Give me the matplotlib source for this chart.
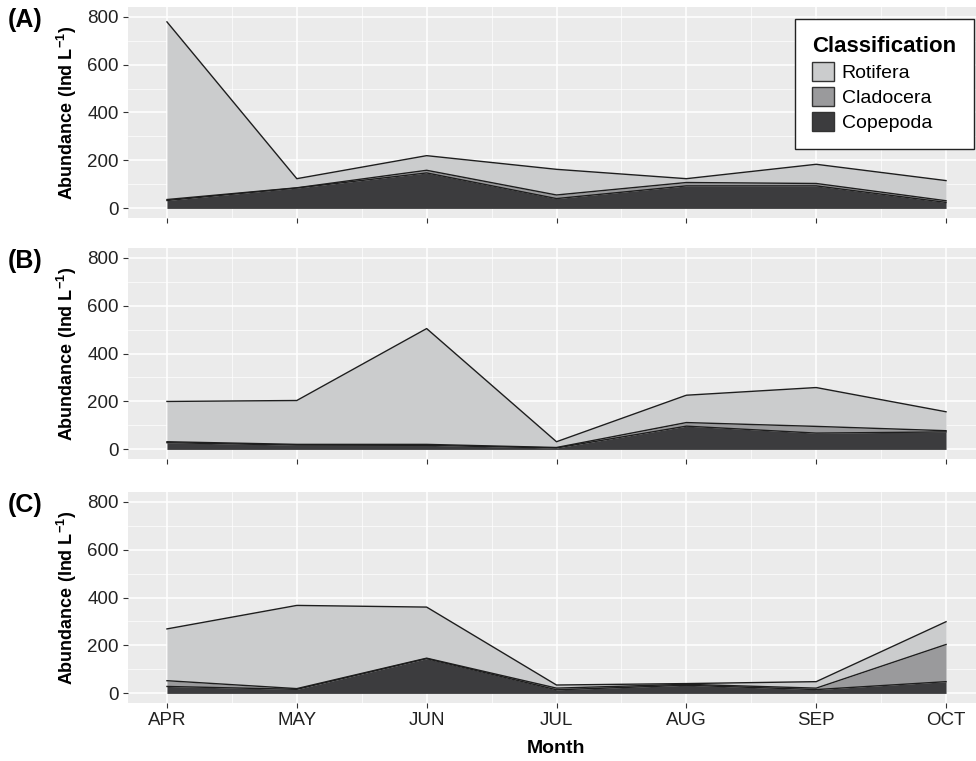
import numpy as np
import matplotlib
matplotlib.use("Agg")
import matplotlib.pyplot as plt
from matplotlib.patches import Patch

plt.rcParams['font.family'] = ['Liberation Sans', 'DejaVu Sans']
plt.rcParams['mathtext.fontset'] = 'custom'
plt.rcParams['mathtext.rm'] = 'Liberation Sans'
plt.rcParams['mathtext.bf'] = 'Liberation Sans:bold'

# ---- data (Ind L-1) ----
months = ["APR", "MAY", "JUN", "JUL", "AUG", "SEP", "OCT"]
taxa = ["Rotifera", "Cladocera", "Copepoda"]
panel_labels = ["(A)", "(B)", "(C)"]

copepoda_a = [33, 85, 148, 41, 94, 94, 25]
cladocera_a = [4, 1, 11, 15, 14, 10, 7]
rotifera_a = [741, 38, 61, 107, 16, 80, 84]

copepoda_b = [28, 18, 17, 6, 97, 68, 73]
cladocera_b = [4, 3, 4, 2, 15, 28, 5]
rotifera_b = [168, 183, 483, 24, 114, 162, 79]

copepoda_c = [29, 17, 145, 15, 34, 16, 49]
cladocera_c = [24, 3, 2, 7, 4, 6, 155]
rotifera_c = [216, 347, 213, 13, 3, 27, 95]

y_ticks = [0, 200, 400, 600, 800]

colors = {"Rotifera": "#cbcccd", "Cladocera": "#9a9a9c", "Copepoda": "#3c3c3e"}
line_col = "#1e1e1e"

panels = [
    (copepoda_a, cladocera_a, rotifera_a),
    (copepoda_b, cladocera_b, rotifera_b),
    (copepoda_c, cladocera_c, rotifera_c),
]

W, H = 976, 761
fig = plt.figure(figsize=(W / 100, H / 100), dpi=100)

# panel boxes in pixels: (top, bottom)
boxes = [(7, 218), (248, 459), (492, 703)]
left_px, right_px = 128, 985

x = np.arange(len(months))
for i, (cope, clad, roti) in enumerate(panels):
    top, bot = boxes[i]
    ax = fig.add_axes([left_px / W, (H - bot) / H, (right_px - left_px) / W, (bot - top) / H])
    ax.set_facecolor("#ebebeb")
    for s in ax.spines.values():
        s.set_visible(False)

    # grid: major + minor (ggplot style)
    ax.set_xticks(x)
    ax.set_xticks(x[:-1] + 0.5, minor=True)
    ax.set_yticks(y_ticks)
    ax.set_yticks([100, 300, 500, 700], minor=True)
    ax.grid(which="major", color="white", lw=1.1)
    ax.grid(which="minor", color="white", lw=0.5)
    ax.set_axisbelow(True)

    # stacked areas: Copepoda at bottom, Rotifera on top
    c1 = np.array(cope)
    c2 = c1 + np.array(clad)
    c3 = c2 + np.array(roti)
    ax.fill_between(x, 0, c1, color=colors["Copepoda"], lw=0, zorder=2)
    ax.fill_between(x, c1, c2, color=colors["Cladocera"], lw=0, zorder=2)
    ax.fill_between(x, c2, c3, color=colors["Rotifera"], lw=0, zorder=2)
    for c in (c1, c2, c3):
        ax.plot(x, c, color=line_col, lw=1.0, zorder=3)

    ax.set_xlim(-0.3, 6.3)
    ax.set_ylim(-40, 840)
    ax.tick_params(which="minor", length=0)
    ax.tick_params(which="major", length=3.5, color="#333333", labelsize=13.5,
                   labelcolor="#222222", pad=3)
    if i < 2:
        ax.set_xticklabels([])
    else:
        ax.set_xticklabels(months)
        ax.set_xlabel("Month", fontsize=14, fontweight="bold", labelpad=8)
    ax.set_ylabel(r"Abundance (Ind L$^{\mathbf{-1}}$)", fontsize=13,
                  fontweight="bold", labelpad=6)
    fig.text(8 / W, 1 - (top + 13) / H, panel_labels[i], fontsize=18,
             fontweight="bold", va="center", ha="left")

handles = [Patch(facecolor=colors[t], edgecolor="#333333", lw=1) for t in taxa]
leg = fig.legend(handles, taxa, title="Classification", loc="upper right",
                 bbox_to_anchor=(974 / W, 1 - 19 / H), borderaxespad=0,
                 fontsize=14, title_fontproperties={"weight": "bold", "size": 16},
                 frameon=True, fancybox=False, framealpha=1, edgecolor="#222222",
                 handlelength=1.1, handleheight=1.1, handletextpad=0.4,
                 labelspacing=0.25, borderpad=0.9, alignment="left")
leg.get_frame().set_linewidth(1.0)

fig.savefig("out.png", dpi=100)
